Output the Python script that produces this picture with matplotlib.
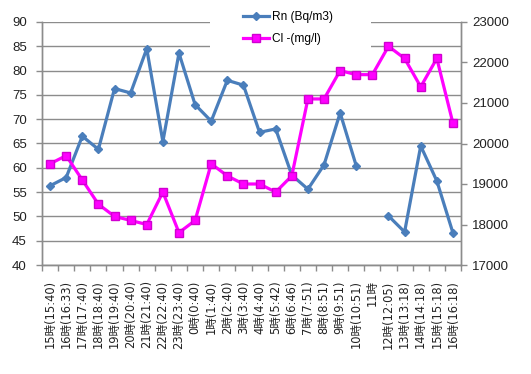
import numpy as np
import matplotlib
matplotlib.use("Agg")
import matplotlib.pyplot as plt
from matplotlib.patches import Rectangle

# hourly labels (11時 has no clock time)
labels = ["15時(15:40)", "16時(16:33)", "17時(17:40)", "18時(18:40)", "19時(19:40)",
          "20時(20:40)", "21時(21:40)", "22時(22:40)", "23時(23:40)", "0時(0:40)",
          "1時(1:40)", "2時(2:40)", "3時(3:40)", "4時(4:40)", "5時(5:42)",
          "6時(6:46)", "7時(7:51)", "8時(8:51)", "9時(9:51)", "10時(10:51)",
          "11時", "12時(12:05)", "13時(13:18)", "14時(14:18)", "15時(15:18)",
          "16時(16:18)"]

# Rn (Bq/m3), no reading at 11時
rn = [56.3, 58.0, 66.5, 63.8, 76.3, 75.4, 84.5, 65.4, 83.6, 73.0,
      69.6, 78.0, 77.0, 67.3, 68.0, 58.5, 55.6, 60.6, 71.3, 60.4,
      np.nan, 50.1, 46.8, 64.5, 57.3, 46.6]

# Cl- (mg/l)
cl = [19500, 19700, 19100, 18500, 18200, 18100, 18000, 18800, 17800, 18100,
      19500, 19200, 19000, 19000, 18800, 19200, 21100, 21100, 21800, 21700,
      21700, 22400, 22100, 21400, 22100, 20500]

blue = "#4A7EBB"
pink = "#FF00FF"
gray = "#8C8C8C"

x = np.arange(len(labels))

fig = plt.figure(figsize=(5.31, 3.74), dpi=100)
ax = fig.add_axes([42 / 531, 1 - 265 / 374, 419 / 531, 243 / 374])
ax2 = ax.twinx()

ax.set_axisbelow(True)
ax.yaxis.grid(True, color=gray, lw=1.0)

# white box where the legend sits, covering the grid
ax.add_patch(Rectangle((0.401, 0.84), 0.384, 0.16, transform=ax.transAxes,
                       facecolor="white", edgecolor="none", zorder=1))

l1, = ax.plot(x, rn, color=blue, lw=2.3, marker="D", ms=4.5,
              mfc=blue, mec=blue, zorder=3, label="Rn (Bq/m3)")
l2, = ax2.plot(x, cl, color=pink, lw=2.3, marker="s", ms=6,
               mfc=pink, mec="#D000D0", zorder=3, label="Cl -(mg/l)")

ax.set_xlim(-0.5, len(labels) - 0.5)
ax.set_ylim(40, 90)
ax.set_yticks(np.arange(40, 91, 5))
ax2.set_ylim(17000, 23000)
ax2.set_yticks(np.arange(17000, 23001, 1000))

ax.set_xticks(x)
ax.set_xticklabels(labels, rotation=90, family=["DejaVu Sans", "Noto Sans CJK JP"],
                   fontsize=8.3)
ax.set_xticks(np.arange(-0.5, len(labels)), minor=True)
ax.tick_params(axis="x", which="major", length=0, pad=11, colors="#222222")
ax.tick_params(axis="x", which="minor", length=4, width=1, color=gray, direction="out")
ax.tick_params(axis="y", length=4, width=1, color=gray, pad=7, labelsize=9.5,
               labelcolor="#222222")
ax2.tick_params(axis="y", length=4, width=1, color=gray, pad=4, labelsize=9.5,
                labelcolor="#222222")
for t in ax.get_yticklabels() + ax2.get_yticklabels():
    t.set_family("Liberation Sans")

for a in (ax, ax2):
    a.spines["top"].set_visible(False)
    for s in ("left", "right", "bottom"):
        a.spines[s].set_color(gray)
        a.spines[s].set_linewidth(1)

fig.legend(handles=[l1, l2], loc="upper left", bbox_to_anchor=(243 / 531, 1 - 11 / 374),
           bbox_transform=fig.transFigure, frameon=False, borderpad=0, borderaxespad=0,
           handlelength=2.2, handletextpad=0.2, labelspacing=0.85,
           prop={"family": "Liberation Sans", "size": 8.6})

fig.savefig("out.png", dpi=100, facecolor="white")
